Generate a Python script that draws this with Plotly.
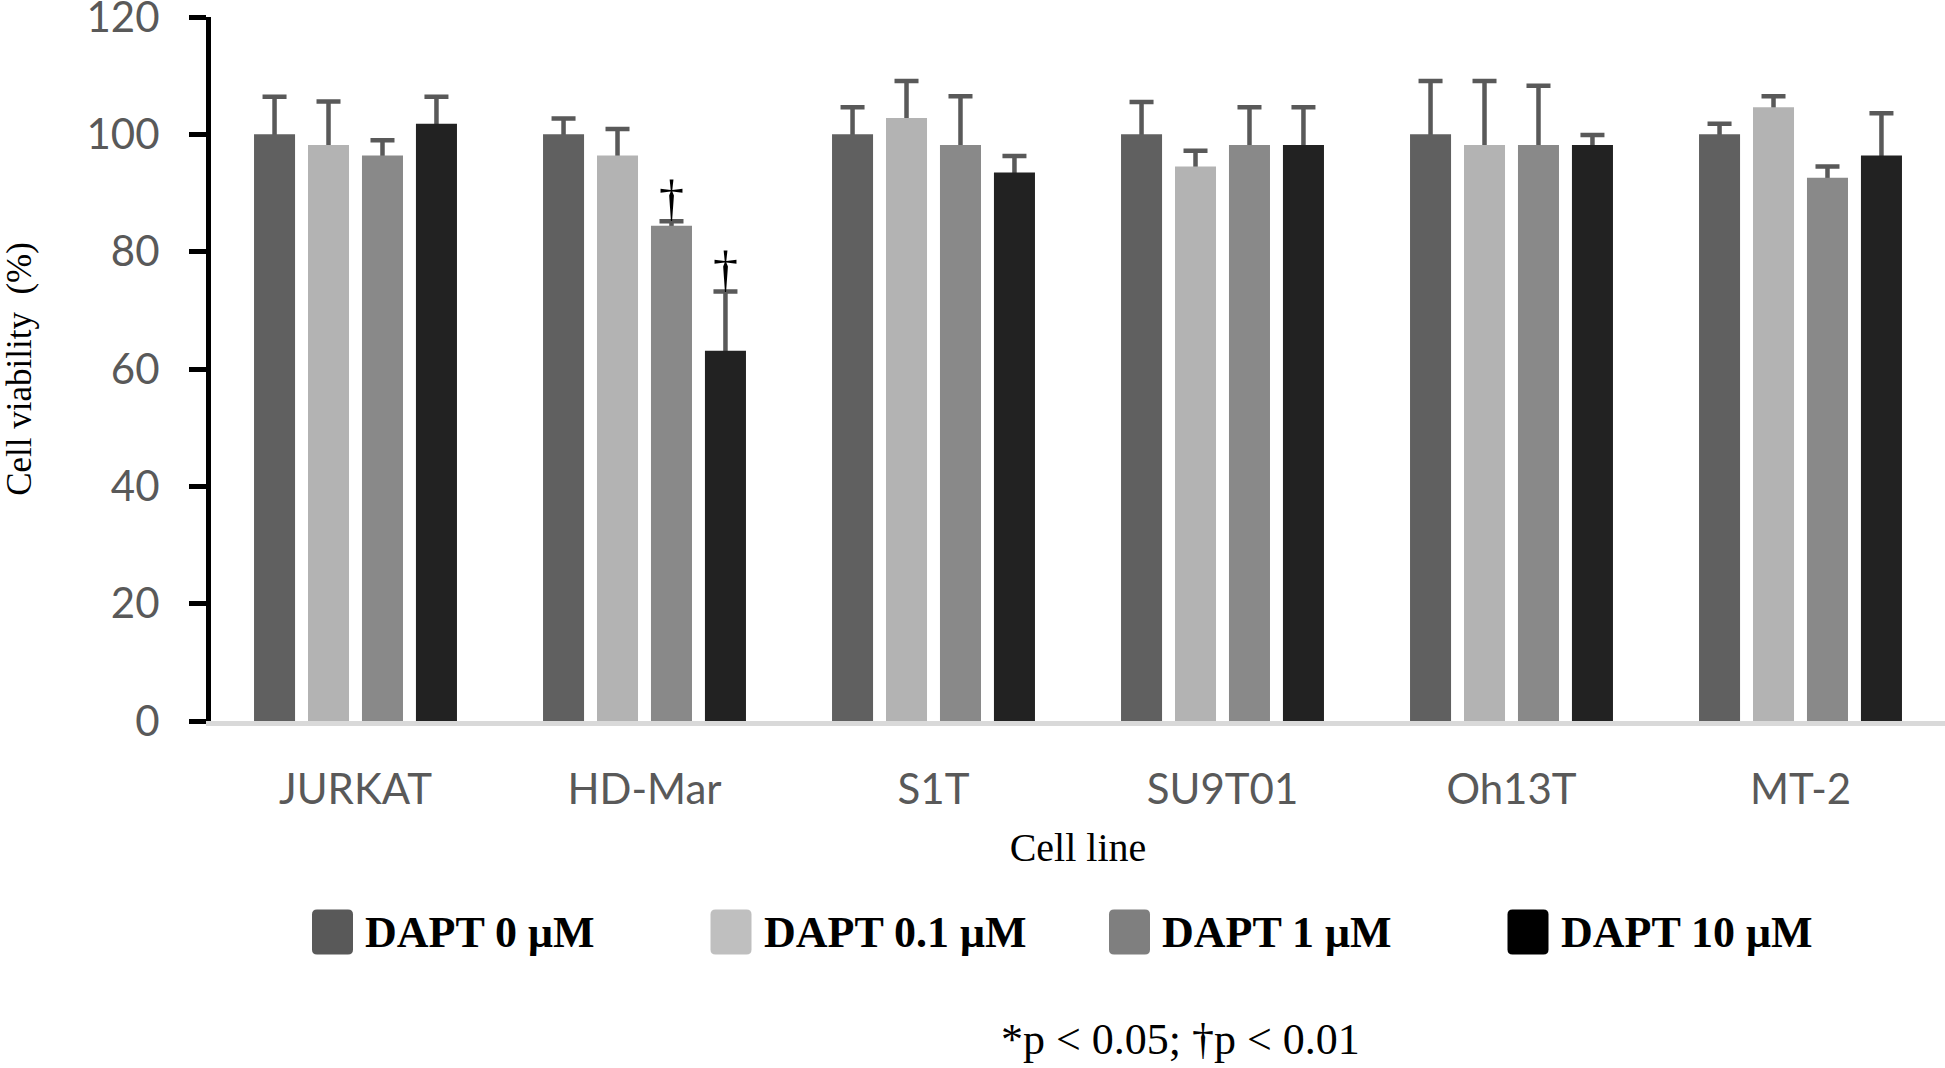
import plotly.graph_objects as go

# ---------------- data ----------------
categories = ["JURKAT", "HD-Mar", "S1T", "SU9T01", "Oh13T", "MT-2"]
series_names = ["DAPT 0 \u03bcM", "DAPT 0.1 \u03bcM", "DAPT 1 \u03bcM", "DAPT 10 \u03bcM"]

mean_0 = [100.0, 100.0, 100.0, 100.0, 100.0, 100.0]
mean_01 = [98.2, 96.4, 102.8, 94.5, 98.2, 104.6]
mean_1 = [96.4, 84.4, 98.2, 98.2, 98.2, 92.6]
mean_10 = [101.8, 63.1, 93.5, 98.2, 98.2, 96.4]

err_0 = [6.4, 2.7, 4.6, 5.5, 9.1, 1.8]
err_01 = [7.4, 4.5, 6.3, 2.7, 10.9, 1.9]
err_1 = [2.6, 0.8, 8.3, 6.4, 10.1, 1.9]
err_10 = [4.6, 10.1, 2.8, 6.4, 1.7, 7.2]

sig_0 = ["", "", "", "", "", ""]
sig_01 = ["", "", "", "", "", ""]
sig_1 = ["", "\u2020", "", "", "", ""]
sig_10 = ["", "\u2020", "", "", "", ""]

y_ticks = [0, 20, 40, 60, 80, 100, 120]
footnote = "*p < 0.05; \u2020p < 0.01"

means = [mean_0, mean_01, mean_1, mean_10]
errs = [err_0, err_01, err_1, err_10]
sigs = [sig_0, sig_01, sig_1, sig_10]

# ---------------- style ----------------
bar_colors = ["#606060", "#b3b3b3", "#898989", "#222222"]
swatch_colors = ["#595959", "#bfbfbf", "#7f7f7f", "#000000"]
err_color = "#595959"
tick_font = "Lato, Calibri, Carlito, sans-serif"
serif = "Liberation Serif, Times New Roman, serif"

W, H = 1945, 1068
ML, MR, MT, MB = 211, 0, 17, 347
PW, PH = W - ML - MR, H - MT - MB
BARGAP, BARGROUPGAP = 0.253, 0.24

fig = go.Figure()
for i in range(4):
    # error bars drawn first (transparent bars) so the real bars hide the lower half
    fig.add_trace(go.Bar(
        x=categories, y=means[i], offsetgroup=str(i),
        marker=dict(color="rgba(0,0,0,0)", line=dict(width=0)),
        error_y=dict(type="data", array=errs[i], symmetric=True,
                     color=err_color, thickness=4.5, width=12),
        showlegend=False, hoverinfo="skip"))
    fig.add_trace(go.Bar(
        x=categories, y=means[i], offsetgroup=str(i), name=series_names[i],
        marker=dict(color=bar_colors[i], line=dict(width=0)),
        showlegend=False))

# significance marks above the error bars
slot = (1 - BARGAP) / 4
annotations = []
for j in range(4):
    off = -(1 - BARGAP) / 2 + slot * (j + 0.5)
    for k, s in enumerate(sigs[j]):
        if s:
            annotations.append(dict(
                x=k + off, y=means[j][k] + errs[j][k], xref="x", yref="y",
                text=s, showarrow=False, xanchor="center", yanchor="bottom",
                yshift=-7, font=dict(family=serif, size=50, color="#000000")))

# manual legend (large rounded swatches)
def px2paper_x(px):
    return (px - ML) / PW

def px2paper_y(py):
    return (MT + PH - py) / PH

shapes = []
leg_x0, leg_dx, sw_w, sw_h, leg_yc = 312, 398.5, 41, 45, 932
r = 5
for i in range(4):
    xa = px2paper_x(leg_x0 + leg_dx * i)
    ya = px2paper_y(leg_yc)
    w, h = sw_w, sw_h / 2
    path = (f"M {r},{-h} L {w - r},{-h} Q {w},{-h} {w},{-h + r} L {w},{h - r} "
            f"Q {w},{h} {w - r},{h} L {r},{h} Q 0,{h} 0,{h - r} L 0,{-h + r} "
            f"Q 0,{-h} {r},{-h} Z")
    shapes.append(dict(type="path", xref="paper", yref="paper",
                       xsizemode="pixel", ysizemode="pixel",
                       xanchor=xa, yanchor=ya, path=path,
                       fillcolor=swatch_colors[i], line=dict(width=0)))
    annotations.append(dict(
        x=px2paper_x(leg_x0 + leg_dx * i + sw_w + 10), y=ya,
        xref="paper", yref="paper", text="<b>" + series_names[i] + "</b>",
        showarrow=False, xanchor="left", yanchor="middle",
        font=dict(family=serif, size=44, color="#000000")))

annotations.append(dict(
    x=px2paper_x(1180), y=px2paper_y(1039), xref="paper", yref="paper",
    text=footnote, showarrow=False, xanchor="center", yanchor="middle",
    font=dict(family=serif, size=44, color="#000000")))

fig.update_layout(
    width=W, height=H,
    margin=dict(l=ML, r=MR, t=MT, b=MB, pad=0, autoexpand=False),
    paper_bgcolor="white", plot_bgcolor="white",
    barmode="group", bargap=BARGAP, bargroupgap=BARGROUPGAP,
    showlegend=False,
    annotations=annotations, shapes=shapes,
    xaxis=dict(
        type="category", range=[-0.5, 5.5], automargin=False,
        showline=True, linecolor="#d9d9d9", linewidth=5,
        showgrid=False, zeroline=False, ticks="",
        tickfont=dict(family=tick_font, size=42, color="#595959"),
        ticklabelstandoff=28,
        title=dict(text="Cell line", standoff=22,
                   font=dict(family=serif, size=40, color="#000000")),
    ),
    yaxis=dict(
        range=[0, 120], tickvals=y_ticks, automargin=False,
        ticklabeloverflow="allow",
        showline=True, linecolor="#000000", linewidth=5,
        ticks="outside", ticklen=17, tickwidth=5, tickcolor="#000000",
        showgrid=False, zeroline=False,
        tickfont=dict(family=tick_font, size=42, color="#595959"),
        ticklabelstandoff=21,
        title=dict(text="Cell viability  (%)", standoff=70,
                   font=dict(family=serif, size=35, color="#000000")),
    ),
)

fig.write_html(
    "out.html",
    config={"displayModeBar": False},
    post_script="document.body.style.margin='0';document.body.style.overflow='hidden';",
)
